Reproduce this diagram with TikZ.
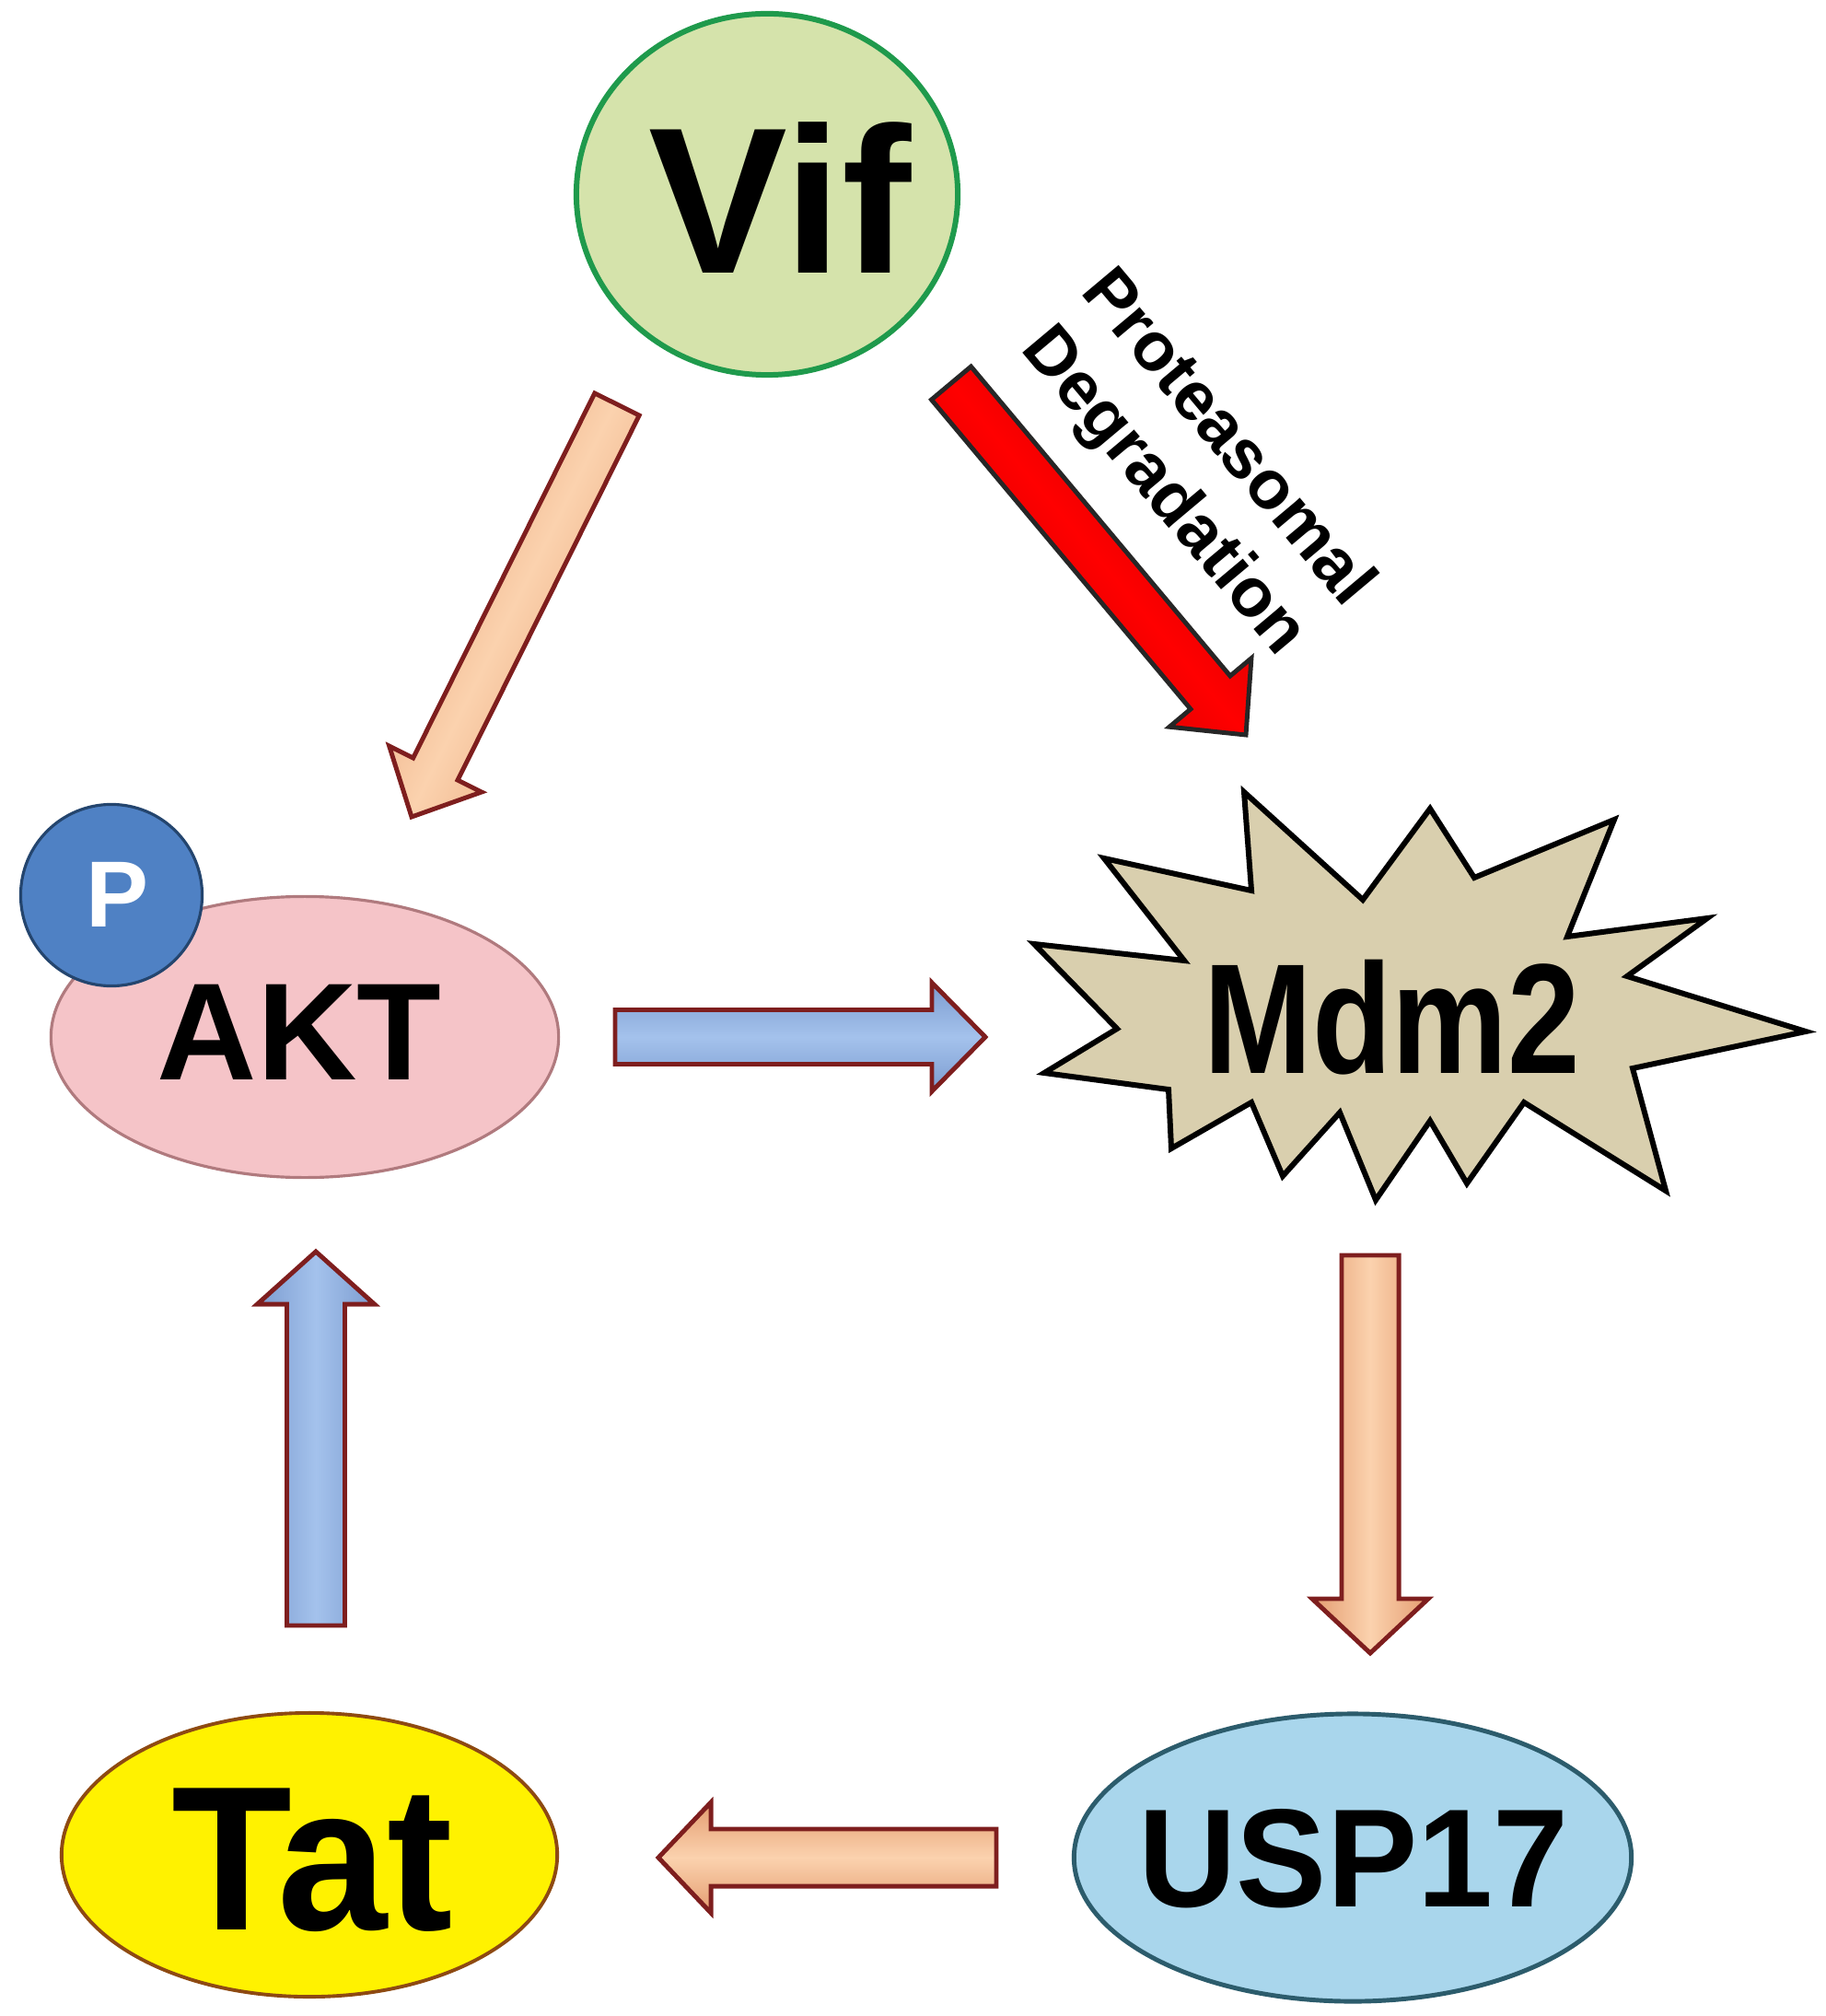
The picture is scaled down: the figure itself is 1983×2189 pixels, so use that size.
\documentclass[tikz,border=0pt]{standalone}
\usepackage{fontspec}
\usepackage{graphicx}
\setmainfont{Liberation Sans}
\usetikzlibrary{shapes.geometric,calc}

\definecolor{vifF}{HTML}{D5E3AB}
\definecolor{vifR}{HTML}{A3B47C}
\definecolor{vifB}{HTML}{1F9A4C}
\definecolor{aktF}{HTML}{F5C4C8}
\definecolor{aktR}{HTML}{CF969C}
\definecolor{aktB}{HTML}{B07A7E}
\definecolor{pF}{HTML}{4F81C4}
\definecolor{pR}{HTML}{34598F}
\definecolor{pB}{HTML}{24456E}
\definecolor{tatF}{HTML}{FFF200}
\definecolor{tatR}{HTML}{D8C000}
\definecolor{tatB}{HTML}{8E4A12}
\definecolor{uspF}{HTML}{A9D6EC}
\definecolor{uspR}{HTML}{7EABC2}
\definecolor{uspB}{HTML}{2C5C6C}
\definecolor{mdmF}{HTML}{D9CFAE}
\definecolor{arrO}{HTML}{FBD2AE}
\definecolor{arrOd}{HTML}{E49C70}
\definecolor{arrB}{HTML}{A4C2EC}
\definecolor{arrBd}{HTML}{7C9CD0}
\definecolor{arrEdge}{HTML}{7E1E1E}
\definecolor{redF}{HTML}{FF0000}
\definecolor{redD}{HTML}{C00000}

\pgfdeclareradialshading{vifsh}{\pgfpoint{0bp}{0bp}}{color(0bp)=(vifF); color(40bp)=(vifF); color(50bp)=(vifR)}
\pgfdeclareradialshading{aktsh}{\pgfpoint{0bp}{0bp}}{color(0bp)=(aktF); color(41bp)=(aktF); color(50bp)=(aktR)}
\pgfdeclareradialshading{psh}{\pgfpoint{0bp}{0bp}}{color(0bp)=(pF); color(38bp)=(pF); color(50bp)=(pR)}
\pgfdeclareradialshading{tatsh}{\pgfpoint{0bp}{0bp}}{color(0bp)=(tatF); color(42bp)=(tatF); color(50bp)=(tatR)}
\pgfdeclareradialshading{uspsh}{\pgfpoint{0bp}{0bp}}{color(0bp)=(uspF); color(41bp)=(uspF); color(50bp)=(uspR)}

% block arrow: #1 style, #2 start, #3 end, #4 half shaft, #5 half head, #6 head length
\newcommand{\blkarrow}[6]{%
  \coordinate (ab) at ($(#3)!#6!(#2)$);
  \path[#1] ($(#2)!#4!90:(#3)$) -- ($(ab)!#4!90:(#3)$) -- ($(ab)!#5!90:(#3)$) -- (#3)
    -- ($(ab)!#5!-90:(#3)$) -- ($(ab)!#4!-90:(#3)$) -- ($(#2)!#4!-90:(#3)$) -- cycle;}

\begin{document}
\begin{tikzpicture}[x=0.01cm,y=-0.01cm,
  every node/.style={inner sep=0pt, outer sep=0pt},
  blob/.style={ellipse, shade},
  lbl/.style={anchor=base},
  orarrow/.style={draw=arrEdge, line width=1.4pt, line join=miter},
  bluarrow/.style={draw=arrEdge, line width=1.4pt, line join=miter},
  ]
\fill[white] (0,0) rectangle (1983,2189);
\useasboundingbox (0,0) rectangle (1983,2189);

% ---------- nodes ----------
\node[blob, shading=vifsh, draw=vifB, line width=1.7pt,
      minimum width=4.14cm, minimum height=3.92cm] (vif) at (833,211) {};
\node[lbl, font=\bfseries\fontsize{64.3pt}{70pt}\selectfont] (viftxt) at (847,297) {Vif};

\node[blob, shading=aktsh, draw=aktB, line width=0.9pt,
      minimum width=5.51cm, minimum height=3.05cm] (akt) at (331,1126) {};
\node[lbl, font=\bfseries\fontsize{42.7pt}{48pt}\selectfont] (akttxt) at (325,1172) {AKT};

\node[circle, shade, shading=psh, draw=pB, line width=0.9pt,
      minimum size=1.97cm] (pcirc) at (121,972) {};
\node[lbl, text=white, font=\bfseries\fontsize{29pt}{34pt}\selectfont] (ptxt) at (128,1006) {P};

\path[draw=black, line width=1.7pt, fill=mdmF, line join=miter]
  (1351,860) -- (1480,977) -- (1553,878) -- (1601,953) -- (1753,890) -- (1702,1017)
  -- (1854,997) -- (1767,1060) -- (1961,1120) -- (1773,1160) -- (1809,1293)
  -- (1655,1197) -- (1593,1285) -- (1553,1217) -- (1494,1303) -- (1455,1208)
  -- (1393,1277) -- (1359,1197) -- (1272,1247) -- (1269,1183) -- (1134,1165)
  -- (1213,1117) -- (1123,1025) -- (1286,1043) -- (1199,932) -- (1359,967) -- cycle;
\node[lbl, font=\bfseries\fontsize{48.4pt}{54pt}\selectfont] (mdm2) at (1512,1165) {\scalebox{0.83}[1]{Mdm2}};

\node[blob, shading=tatsh, draw=tatB, line width=1.1pt,
      minimum width=5.38cm, minimum height=3.08cm] (tat) at (336,2014) {};
\node[lbl, font=\bfseries\fontsize{63.5pt}{70pt}\selectfont] (tattxt) at (339,2095) {\scalebox{0.96}[1]{Tat}};

\node[blob, shading=uspsh, draw=uspB, line width=1.4pt,
      minimum width=6.05cm, minimum height=3.12cm] (usp) at (1469,2017) {};
\node[lbl, font=\bfseries\fontsize{43.2pt}{48pt}\selectfont] (usptxt) at (1470,2070) {\scalebox{0.97}[1]{USP17}};

\node[rotate=-50, align=center, font=\bfseries\fontsize{21.3pt}{25.5pt}\selectfont]
  (deg) at (1297,506) {Proteasomal\\Degradation};

% ---------- connectors ----------
\coordinate (a1s) at (670,439);  \coordinate (a1e) at (447,887);
\coordinate (a2s) at (1033,416); \coordinate (a2e) at (1353,798);
\coordinate (a3s) at (668,1126); \coordinate (a3e) at (1070,1126);
\coordinate (a4s) at (1488,1363); \coordinate (a4e) at (1488,1795);
\coordinate (a5s) at (343,1765); \coordinate (a5e) at (343,1359);
\coordinate (a6s) at (1082,2017); \coordinate (a6e) at (715,2017);

\blkarrow{orarrow, top color=arrOd, bottom color=arrOd, middle color=arrO, shading angle=63.5}{a1s}{a1e}{0.27cm}{0.56cm}{0.58cm}
\blkarrow{draw=black!85, line width=1.4pt, line join=miter, top color=redD, bottom color=redD, middle color=redF, shading angle=-50}{a2s}{a2e}{0.28cm}{0.58cm}{0.60cm}
\blkarrow{bluarrow, top color=arrBd, bottom color=arrBd, middle color=arrB}{a3s}{a3e}{0.295cm}{0.59cm}{0.58cm}
\blkarrow{orarrow, left color=arrOd, right color=arrOd, middle color=arrO}{a4s}{a4e}{0.31cm}{0.63cm}{0.59cm}
\blkarrow{bluarrow, left color=arrBd, right color=arrBd, middle color=arrB}{a5s}{a5e}{0.315cm}{0.635cm}{0.57cm}
\blkarrow{orarrow, top color=arrOd, bottom color=arrOd, middle color=arrO}{a6s}{a6e}{0.31cm}{0.60cm}{0.57cm}
\end{tikzpicture}
\end{document}
